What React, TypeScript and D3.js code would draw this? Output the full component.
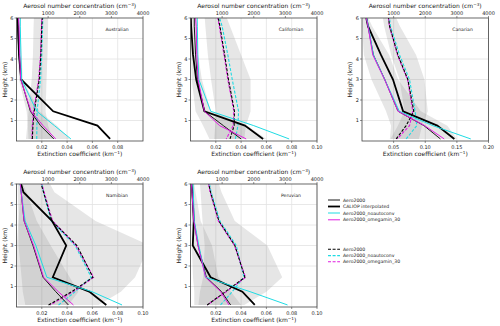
import * as d3 from "d3";

// vertical levels (km) shared by every profile
const heights = [0.1, 0.75, 1.45, 3.0, 4.2, 5.6, 6.0];
const regions = ["Australian", "Californian", "Canarian", "Namibian", "Peruvian"];
const heightTicks = [1, 2, 3, 4, 5, 6];
const concTicks = [1000, 2000, 3000, 4000];
const extMax = [0.1, 0.1, 0.2, 0.1, 0.1];
const extTicks = [
  [0.02, 0.04, 0.06, 0.08],
  [0.02, 0.04, 0.06, 0.08, 0.1],
  [0.05, 0.1, 0.15, 0.2],
  [0.02, 0.04, 0.06, 0.08, 0.1],
  [0.02, 0.04, 0.06, 0.08, 0.1],
];

// extinction coefficient (km-1), one row per region
const extAero2000 = [
  [0.0295, 0.019, 0.011, 0.0035, 0.002, 0.0008, 0.0004],
  [0.040, 0.026, 0.011, 0.0055, 0.004, 0.003, 0.003],
  [0.124, 0.098, 0.057, 0.036, 0.018, 0.0095, 0.007],
  [0.041, 0.031, 0.021, 0.013, 0.006, 0.0037, 0.003],
  [0.0317, 0.0245, 0.0125, 0.006, 0.0028, 0.0012, 0.0008],
];
const extCaliop = [
  [0.074, 0.064, 0.029, 0.0037, 0.002, 0.0012, 0.001],
  [0.0574, 0.043, 0.011, 0.0045, 0.002, 0.0005, 0.0003],
  [0.146, 0.119, 0.065, 0.049, 0.03, 0.0095, 0.0068],
  [0.071, 0.0575, 0.0287, 0.0393, 0.028, 0.0055, 0.0036],
  [0.0508, 0.041, 0.0159, 0.0018, 0.0026, 0.0015, 0.0008],
];
const extNoautoconv = [
  [0.043, 0.030, 0.016, 0.004, 0.0035, 0.003, 0.003],
  [0.078, 0.050, 0.016, 0.0066, 0.0058, 0.0054, 0.0053],
  [0.172, 0.112, 0.059, 0.036, 0.018, 0.010, 0.0074],
  [0.0834, 0.0596, 0.024, 0.0153, 0.0068, 0.0037, 0.0029],
  [0.0767, 0.047, 0.0119, 0.0066, 0.003, 0.0022, 0.002],
];
const extOmegamin = [
  [0.031, 0.021, 0.0115, 0.0033, 0.0025, 0.002, 0.0016],
  [0.044, 0.023, 0.011, 0.006, 0.005, 0.0045, 0.004],
  [0.130, 0.099, 0.057, 0.0357, 0.017, 0.0095, 0.0068],
  [0.045, 0.033, 0.0214, 0.0135, 0.006, 0.0037, 0.003],
  [0.0304, 0.0238, 0.0119, 0.0059, 0.0026, 0.0012, 0.0008],
];

// aerosol number concentration (cm-3)
const concAero2000 = [
  [500, 520, 560, 720, 770, 800, 815],
  [1250, 1380, 1390, 1200, 1080, 930, 880],
  [1080, 1396, 1638, 1449, 1134, 872, 841],
  [1013, 1751, 2416, 1910, 1118, 855, 780],
  [528, 1108, 1720, 1403, 897, 633, 580],
];
const concNoautoconv = [
  [640, 645, 650, 760, 800, 825, 835],
  [1420, 1500, 1520, 1320, 1180, 1000, 920],
  [1396, 1732, 1680, 1502, 1187, 900, 872],
  [1330, 1856, 2363, 1856, 1096, 855, 801],
  [950, 1320, 1688, 1447, 928, 653, 600],
];
const concOmegamin = [
  [485, 500, 540, 700, 760, 790, 800],
  [1130, 1350, 1370, 1180, 1060, 910, 860],
  [1113, 1502, 1606, 1440, 1120, 865, 835],
  [1065, 1805, 2438, 1878, 1140, 875, 801],
  [528, 1140, 1741, 1390, 880, 620, 570],
];

// shaded spread envelopes
const extLow = [
  [0.0095, 0.009, 0.008, 0.002, 0.001, 0.0005, 0.0005],
  [0.015, 0.010, 0.004, 0.001, 0.0005, 0, 0],
  [0.044, 0.046, 0.038, 0.015, 0.003, 0, 0],
  [0.007, 0.005, 0.004, 0.0016, 0.0016, 0.001, 0.001],
  [0.003, 0.003, 0.002, 0.001, 0.001, 0, 0],
];
const extHigh = [
  [0.042, 0.032, 0.018, 0.005, 0.004, 0.003, 0.003],
  [0.060, 0.045, 0.016, 0.009, 0.006, 0.005, 0.005],
  [0.15, 0.135, 0.093, 0.057, 0.043, 0.016, 0.01],
  [0.041, 0.049, 0.042, 0.027, 0.016, 0.008, 0.005],
  [0.040, 0.032, 0.022, 0.017, 0.008, 0.004, 0.003],
];
const concLow = [
  [300, 340, 380, 480, 520, 540, 550],
  [750, 780, 800, 650, 550, 470, 450],
  [900, 1134, 1344, 1186, 924, 700, 661],
  [40, 30, 20, 10, 60, 140, 170],
  [250, 300, 400, 450, 380, 320, 300],
];
const concHigh = [
  [1150, 1000, 920, 950, 980, 1000, 1000],
  [1700, 1750, 1900, 1900, 1600, 1250, 1150],
  [1800, 1900, 2080, 1974, 1711, 1200, 1081],
  [2600, 3300, 3750, 4200, 2500, 1200, 1060],
  [1700, 2400, 2900, 2430, 1400, 980, 900],
];

const legendSolid = ["Aero2000", "CALIOP interpolated", "Aero2000_noautoconv", "Aero2000_omegamin_30"];
const legendDashed = ["Aero2000", "Aero2000_noautoconv", "Aero2000_omegamin_30"];

const W = 500;
const H = 326;
const PW = 126.5;
const PH = 123;
const lefts = [16.5, 190.5, 362, 16.5, 190.5];
const tops = [18, 18, 18, 184, 184];
const CYAN = "#1fdbe3";
const MAGENTA = "#e01de0";
const font = "DejaVu Sans, sans-serif";

function fmt(v: number) {
  return v.toFixed(2);
}

function Panel({ i }: { i: number }) {
  const left = lefts[i];
  const top = tops[i];
  const x = d3.scaleLinear().domain([0, extMax[i]]).range([left, left + PW]);
  const xc = d3.scaleLinear().domain([0, 4000]).range([left, left + PW]);
  const y = d3.scaleLinear().domain([0, 6]).range([top + PH, top]);

  const lineExt = d3.line<number>().x((v) => x(v)).y((_, k) => y(heights[k]));
  const lineConc = d3.line<number>().x((v) => xc(v)).y((_, k) => y(heights[k]));
  const areaExt = d3
    .area<number>()
    .x0((_, k) => x(extLow[i][k]))
    .x1((_, k) => x(extHigh[i][k]))
    .y((_, k) => y(heights[k]));
  const areaConc = d3
    .area<number>()
    .x0((_, k) => xc(concLow[i][k]))
    .x1((_, k) => xc(concHigh[i][k]))
    .y((_, k) => y(heights[k]));

  const clip = "clip" + i;
  const cx = left + PW / 2;

  return (
    <g>
      <clipPath id={clip}>
        <rect x={left} y={top} width={PW} height={PH} />
      </clipPath>
      {/* grid */}
      {heightTicks.slice(0, 5).map((h) => (
        <line key={"h" + h} x1={left} x2={left + PW} y1={y(h)} y2={y(h)} stroke="#e2e2e2" strokeWidth={0.8} />
      ))}
      {extTicks[i].map((t) => (
        <line key={"v" + t} x1={x(t)} x2={x(t)} y1={top} y2={top + PH} stroke="#e2e2e2" strokeWidth={0.8} />
      ))}
      <g clipPath={`url(#${clip})`}>
        <path d={areaConc(heights) || ""} fill="gray" fillOpacity={0.2} />
        <path d={areaExt(heights) || ""} fill="gray" fillOpacity={0.2} />
        <path d={lineConc(concNoautoconv[i]) || ""} fill="none" stroke={CYAN} strokeWidth={1.1} strokeDasharray="3,1.6" />
        <path d={lineConc(concOmegamin[i]) || ""} fill="none" stroke={MAGENTA} strokeWidth={1.1} strokeDasharray="3,1.6" strokeDashoffset={2} />
        <path d={lineConc(concAero2000[i]) || ""} fill="none" stroke="black" strokeWidth={1.1} strokeDasharray="3,1.6" />
        <path d={lineExt(extAero2000[i]) || ""} fill="none" stroke="black" strokeWidth={0.9} />
        <path d={lineExt(extCaliop[i]) || ""} fill="none" stroke="black" strokeWidth={1.8} />
        <path d={lineExt(extNoautoconv[i]) || ""} fill="none" stroke={CYAN} strokeWidth={1} />
        <path d={lineExt(extOmegamin[i]) || ""} fill="none" stroke={MAGENTA} strokeWidth={1} />
      </g>
      <rect x={left} y={top} width={PW} height={PH} fill="none" stroke="#444" strokeWidth={0.8} />
      {/* y axis */}
      {heightTicks.map((h) => (
        <g key={"yt" + h}>
          <line x1={left - 2} x2={left} y1={y(h)} y2={y(h)} stroke="#444" strokeWidth={0.6} />
          <text x={left - 3} y={y(h) + 1.8} fontSize={5} textAnchor="end" fill="#222">
            {h}
          </text>
        </g>
      ))}
      <text
        transform={`translate(${left - 10},${top + PH / 2}) rotate(-90)`}
        fontSize={6}
        textAnchor="middle"
        fill="#222"
      >
        Height (km)
      </text>
      {/* bottom axis */}
      {extTicks[i].map((t) => (
        <g key={"xb" + t}>
          <line x1={x(t)} x2={x(t)} y1={top + PH} y2={top + PH + 2} stroke="#444" strokeWidth={0.6} />
          <text x={x(t)} y={top + PH + 7.5} fontSize={5} textAnchor="middle" fill="#222">
            {fmt(t)}
          </text>
        </g>
      ))}
      <text x={cx} y={top + PH + 15} fontSize={6} textAnchor="middle" fill="#222">
        Extinction coefficient (km
        <tspan dy={-2.2} fontSize={4.2}>−1</tspan>
        <tspan dy={2.2}>)</tspan>
      </text>
      {/* top axis */}
      {concTicks.map((t) => (
        <g key={"xt" + t}>
          <line x1={xc(t)} x2={xc(t)} y1={top - 2} y2={top} stroke="#444" strokeWidth={0.6} />
          <text x={xc(t)} y={top - 3} fontSize={5} textAnchor="middle" fill="#222">
            {t}
          </text>
        </g>
      ))}
      <text x={cx} y={top - 10} fontSize={6} textAnchor="middle" fill="#222">
        Aerosol number concentration (cm
        <tspan dy={-2.2} fontSize={4.2}>−3</tspan>
        <tspan dy={2.2}>)</tspan>
      </text>
      <text x={left + PW - 26} y={top + 13} fontSize={4.6} textAnchor="middle" fill="#222">
        {regions[i]}
      </text>
    </g>
  );
}

function Legend() {
  const x0 = 328;
  const x1 = 340;
  const solidY = [200, 206.5, 213, 219.8];
  const dashedY = [249.3, 255.6, 261.8];
  const solidColors = ["black", "black", CYAN, MAGENTA];
  const solidWidths = [0.9, 1.8, 1, 1];
  const dashedColors = ["black", CYAN, MAGENTA];
  return (
    <g fontSize={4.6} fill="#222">
      {legendSolid.map((name, k) => (
        <g key={"ls" + k}>
          <line x1={x0} x2={x1} y1={solidY[k]} y2={solidY[k]} stroke={solidColors[k]} strokeWidth={solidWidths[k]} />
          <text x={x1 + 3} y={solidY[k] + 1.6}>{name}</text>
        </g>
      ))}
      {legendDashed.map((name, k) => (
        <g key={"ld" + k}>
          <line x1={x0} x2={x1} y1={dashedY[k]} y2={dashedY[k]} stroke={dashedColors[k]} strokeWidth={1.1} strokeDasharray="3,1.6" />
          <text x={x1 + 3} y={dashedY[k] + 1.6}>{name}</text>
        </g>
      ))}
    </g>
  );
}

export default function App() {
  return (
    <svg
      width={W}
      height={H}
      style={{ position: "absolute", left: 0, top: 0, background: "white" }}
      fontFamily={font}
    >
      {regions.map((_, i) => (
        <Panel key={i} i={i} />
      ))}
      <Legend />
    </svg>
  );
}
